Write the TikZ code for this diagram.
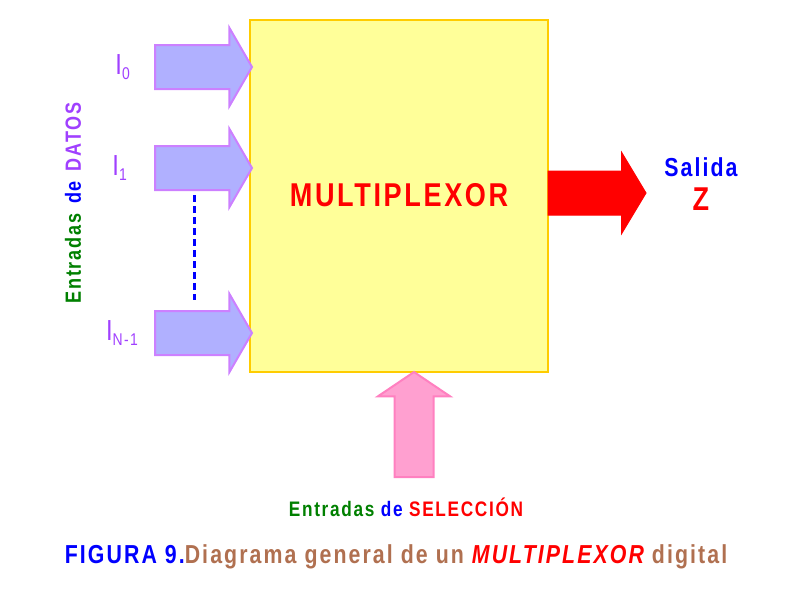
\documentclass[tikz,border=0pt]{standalone}
\usepackage{fontspec}
\setmainfont{Liberation Sans}
\newfontfamily\figfont[FakeStretch=0.82, LetterSpace=8]{Liberation Sans}
\usetikzlibrary{shapes.arrows, positioning, calc}
\usepackage{xcolor}
\definecolor{boxfill}{RGB}{255,255,153}
\definecolor{boxline}{RGB}{255,204,0}
\definecolor{datafill}{RGB}{176,176,255}
\definecolor{dataline}{RGB}{204,128,255}
\definecolor{datatext}{RGB}{160,64,255}
\definecolor{selfill}{RGB}{255,160,208}
\definecolor{selline}{RGB}{255,128,192}
\definecolor{dgreen}{RGB}{0,128,0}
\definecolor{capbrown}{RGB}{176,112,80}
\newcommand{\fsz}[1]{\fontsize{#1}{#1}\selectfont}
\newcommand{\isub}[1]{\raisebox{-5pt}{\fsz{17}#1}}

\begin{document}
\begin{tikzpicture}[
    x=1pt, y=-1pt,
    muxbox/.style={rectangle, draw=boxline, fill=boxfill, line width=2pt, minimum width=298pt, minimum height=352pt, inner sep=0pt, outer sep=0pt, font=\figfont\fsz{33}\bfseries, text=red},
    inarrow/.style={single arrow, draw=dataline, fill=datafill, line width=2pt, minimum height=97pt, inner sep=21pt, single arrow head extend=17pt, single arrow tip angle=120, outer sep=0pt},
    outarrow/.style={single arrow, draw=red, fill=red, line width=1pt, minimum height=98pt, inner sep=21.5pt, single arrow head extend=18.5pt, single arrow tip angle=118, outer sep=0pt},
    selarrow/.style={single arrow, shape border rotate=90, draw=selline, fill=selfill, line width=2pt, minimum height=105pt, inner sep=18.5pt, single arrow head extend=16.5pt, single arrow tip angle=112, outer sep=0pt},
    ilabel/.style={inner sep=0pt, text=datatext, font=\figfont\fsz{29}},
    lbl/.style={inner sep=0pt, font=\figfont\bfseries},
]
\useasboundingbox (0,0) rectangle (800,600);

\node[muxbox, anchor=north west] (mux) at (250,20) {\raisebox{3pt}{MULTIPLEXOR}};

% data inputs
\node[inarrow, anchor=tip] (in0) at ($(mux.north west)+(2,47)$) {};
\node[inarrow, anchor=tip] (in1) at ($(mux.north west)+(2,148)$) {};
\node[inarrow, anchor=tip] (inN) at ($(mux.north west)+(2,313)$) {};

\node[ilabel, left=25pt of in0.tail] (i0) {I\isub{0}};
\node[ilabel, left=28pt of in1.tail] (i1) {I\isub{1}};
\node[ilabel, left=17pt of inN.tail] (iN) {I\isub{N-1}};

\coordinate (d1) at (194,195);
\coordinate (d2) at (194,300);
\draw[blue, line width=3pt, dash pattern=on 7pt off 4pt] (d1) -- (d2);

\node[lbl, rotate=90, font=\figfont\fsz{22}\bfseries] (datos) at (73,203)
  {\textcolor{dgreen}{Entradas}\hspace{10pt}\textcolor{blue}{de}\hspace{10pt}\textcolor{datatext}{DATOS}};

% output
\node[outarrow, anchor=tail] (out) at ($(mux.north east)+(0,173)$) {};
\node[lbl, text=blue, font=\figfont\fsz{26}\bfseries] (salida) at (701,167) {Salida};
\node[lbl, text=red, font=\figfont\fsz{33}\bfseries] (z) at (701,199) {Z};

% selection
\node[selarrow, anchor=tip] (sel) at ($(mux.south)+(15,0)$) {};
\node[lbl, font=\figfont\fsz{21}\bfseries] (seltext) at (406,507)
  {\textcolor{dgreen}{Entradas} \textcolor{blue}{de} \textcolor{red}{SELECCIÓN}};

\node[lbl, font=\figfont\fsz{26}\bfseries, text=capbrown] (caption) at (396,557)
  {\textcolor{blue}{FIGURA 9.}Diagrama general de un \textcolor{red}{\itshape MULTIPLEXOR} digital};

\end{tikzpicture}
\end{document}
